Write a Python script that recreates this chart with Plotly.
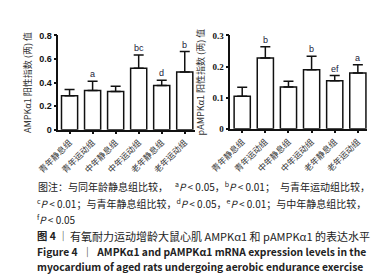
import plotly.graph_objects as go

groups = ["青年静息组", "青年运动组", "中年静息组", "中年运动组", "老年静息组", "老年运动组"]
ampk_vals = [0.287, 0.333, 0.325, 0.521, 0.374, 0.489]
ampk_err = [0.054, 0.079, 0.044, 0.112, 0.046, 0.174]
ampk_sig = ["", "a", "", "bc", "d", "b"]
pampk_vals = [0.1045, 0.2276, 0.134, 0.190, 0.154, 0.179]
pampk_err = [0.029, 0.036, 0.019, 0.043, 0.017, 0.027]
pampk_sig = ["", "b", "", "b", "ef", "a"]

W, H = 381, 278
def px(x):
    return x / W
def py(y):
    return 1 - y / H

fig = go.Figure()
fig.add_trace(go.Bar(
    x=list(range(6)), y=ampk_vals, width=0.7,
    marker=dict(color="white", line=dict(color="#111", width=1.5)),
    error_y=dict(type="data", symmetric=False, array=ampk_err, arrayminus=[0]*6,
                 color="#111", thickness=1.5, width=5),
    xaxis="x", yaxis="y", showlegend=False))
fig.add_trace(go.Bar(
    x=list(range(6)), y=pampk_vals, width=0.7,
    marker=dict(color="white", line=dict(color="#111", width=1.5)),
    error_y=dict(type="data", symmetric=False, array=pampk_err, arrayminus=[0]*6,
                 color="#111", thickness=1.5, width=5),
    xaxis="x2", yaxis="y2", showlegend=False))

xfont = dict(family="Noto Sans CJK SC", size=8.5, color="#333")
common_x = dict(tickmode="array", tickvals=list(range(6)), ticktext=groups, tickangle=-45,
                showline=True, linecolor="#111", linewidth=1.5, ticks="outside",
                ticklen=3, tickwidth=1.5, tickcolor="#111", tickfont=xfont,
                showgrid=False, zeroline=False)
common_y = dict(showline=True, linecolor="#111", linewidth=1.5, ticks="outside",
                ticklen=3, tickwidth=1.5, tickcolor="#111", showgrid=False, zeroline=False)

fig.update_layout(
    width=W, height=H, margin=dict(l=0, r=0, t=0, b=0),
    paper_bgcolor="white", plot_bgcolor="white", bargap=0.3,
    xaxis=dict(domain=[px(30), px(175)], range=[-0.49, 5.44], anchor="y", **common_x),
    yaxis=dict(domain=[py(121), py(23.3)], range=[0, 0.8], anchor="x",
               tickvals=[0, 0.2, 0.4, 0.6, 0.8], ticktext=["<b>0</b>", "<b>0.2</b>", "<b>0.4</b>", "<b>0.6</b>", "<b>0.8</b>"],
               tickfont=dict(family="Liberation Sans", size=9, color="#111"),
               title=dict(text="AMPKα1 阳性指数 (两) 值", standoff=6,
                          font=dict(family="Noto Sans CJK SC", size=9, color="#333")),
               **common_y),
    xaxis2=dict(domain=[px(212.7), px(358)], range=[-0.51, 5.41], anchor="y2", **common_x),
    yaxis2=dict(domain=[py(120), py(23.3)], range=[0, 0.3], anchor="x2",
                tickvals=[0, 0.1, 0.2, 0.3], ticktext=["<b>0</b>", "<b>0.1</b>", "<b>0.2</b>", "<b>0.3</b>"],
                tickfont=dict(family="Liberation Serif", size=9, color="#111"),
                title=dict(text="pAMPKα1 阳性指数 (两) 值", standoff=6,
                           font=dict(family="Noto Sans CJK SC", size=9, color="#333")),
                **common_y),
)

sigfont = dict(family="Liberation Sans", size=9, color="#1a1a3a")
for i, s in enumerate(ampk_sig):
    if s:
        fig.add_annotation(x=i, y=ampk_vals[i] + ampk_err[i], text=s, xref="x", yref="y",
                           showarrow=False, yanchor="bottom", yshift=0, font=sigfont)
for i, s in enumerate(pampk_sig):
    if s:
        fig.add_annotation(x=i, y=pampk_vals[i] + pampk_err[i], text=s, xref="x2", yref="y2",
                           showarrow=False, yanchor="bottom", yshift=0, font=sigfont)

# caption segments: (x px, y px, anchor, size, text)
cap_segments = [
    (6, 180, "left", 10, "图注：与同年龄静息组比较，"),
    (152, 180, "left", 10, "<sup>a</sup><i>P</i> < 0.05，<sup>b</sup><i>P</i> < 0.01；"),
    (363, 180, "right", 10, "与青年运动组比较，"),
    (5, 198, "left", 10, "<sup>c</sup><i>P</i> < 0.01；与青年静息组比较，<sup>d</sup><i>P</i> < 0.05，<sup>e</sup><i>P</i> < 0.01；与中年静息组比较，"),
    (5, 214, "left", 10, "<sup>f</sup><i>P</i> < 0.05"),
    (5, 231, "left", 10.3, "<b>图 4</b> ｜"),
    (40, 231, "left", 11, "有氧耐力运动增龄大鼠心肌 AMPKα1 和 pAMPKα1 的表达水平"),
    (5, 247, "left", 10.3, "<b>Figure 4  ｜  AMPKα1 and pAMPKα1 mRNA expression levels in the</b>"),
    (5, 263, "left", 10.3, "<b>myocardium of aged rats undergoing aerobic endurance exercise</b>"),
]
for xx, yy, anc, fs, t in cap_segments:
    fig.add_annotation(x=px(xx), y=py(yy), xref="paper", yref="paper", text=t,
                       showarrow=False, xanchor=anc, yanchor="middle", align="left",
                       font=dict(family="Noto Sans CJK SC", size=fs, color="#222"))

fig.write_html("out.html")
